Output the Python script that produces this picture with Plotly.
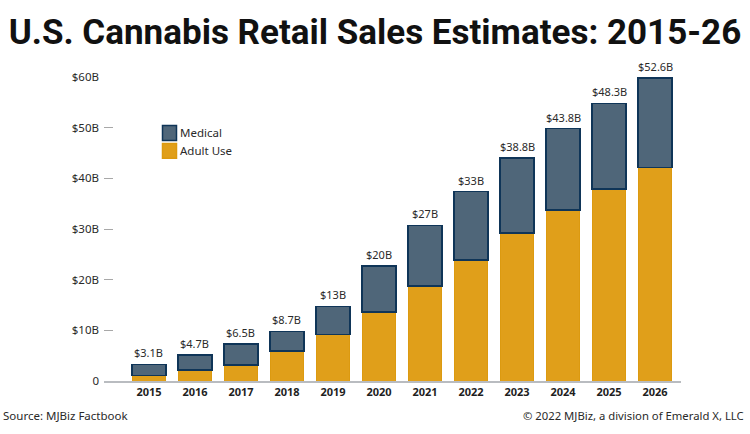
import plotly.graph_objects as go

years = ["2015", "2016", "2017", "2018", "2019", "2020", "2021", "2022", "2023", "2024", "2025", "2026"]
adult_use = [1.1, 2.15, 3.2, 5.9, 9.2, 13.6, 18.75, 23.9, 29.2, 33.8, 37.9, 42.1]
medical = [2.2, 2.95, 4.1, 3.9, 5.55, 9.1, 11.95, 13.5, 14.8, 16.0, 16.9, 17.7]
total_labels = ["$3.1B", "$4.7B", "$6.5B", "$8.7B", "$13B", "$20B", "$27B", "$33B",
                "$38.8B", "$43.8B", "$48.3B", "$52.6B"]
tick_vals = [0, 10, 20, 30, 40, 50, 60]
tick_text = ["0", "$10B", "$20B", "$30B", "$40B", "$50B", "$60B"]

totals = [a + m for a, m in zip(adult_use, medical)]

FONT = "Noto Sans"
TEXT = "#2a2a2a"
BLUE = "#4f6679"
BLUE_EDGE = "#0f3558"
GOLD = "#e09f1a"
GOLD_EDGE = "#dc9a10"

LEFT, RIGHT, TOP, BOTTOM = 104, 69, 76.5, 53
PLOT_W = 750 - LEFT - RIGHT
PLOT_H = 434 - TOP - BOTTOM


# page pixels to paper coordinates, for the legend and footer
def paper_x(px):
    return (px - LEFT) / PLOT_W


def paper_y(px):
    return (434 - BOTTOM - px) / PLOT_H


fig = go.Figure()
fig.add_trace(go.Bar(x=years, y=adult_use, name="Adult Use", showlegend=False, width=0.73,
                     marker=dict(color=GOLD, line=dict(color=GOLD_EDGE, width=1))))
fig.add_trace(go.Bar(x=years, y=medical, name="Medical", showlegend=False, width=0.73,
                     marker=dict(color=BLUE, line=dict(color=BLUE_EDGE, width=1.5))))

fig.update_layout(
    width=750, height=434,
    barmode="stack",
    showlegend=False,
    paper_bgcolor="white",
    plot_bgcolor="white",
    margin=dict(l=LEFT, r=RIGHT, t=TOP, b=BOTTOM),
    font=dict(family=FONT, size=11, color=TEXT),
    title=dict(text="<b>U.S. Cannabis Retail Sales Estimates: 2015-26</b>",
               x=0.5, xanchor="center", y=0.926, yanchor="middle",
               font=dict(family="Roboto", size=35, color="#111111")),
)
fig.update_xaxes(type="category", range=[-0.978, 11.565], showgrid=False, ticks="",
                 showline=True, linecolor="#b9bcc0", linewidth=1.5,
                 tickfont=dict(family=FONT, size=11, color="#1f1f1f", weight="bold"))
fig.update_yaxes(range=[0, 60], tickvals=tick_vals, ticktext=tick_text, showgrid=False,
                 zeroline=False, showline=False, ticks="inside", ticklen=9, tickwidth=1,
                 tickcolor="#a8a8a8", ticklabelstandoff=4,
                 tickfont=dict(family=FONT, size=11.5, color=TEXT))

# labels over the stacks, x is the category index since "2015" would read as a number
for i, (total, label) in enumerate(zip(totals, total_labels)):
    fig.add_annotation(x=i, y=total, text=label, showarrow=False, yanchor="bottom", yshift=2,
                       font=dict(family=FONT, size=11, color=TEXT))

# hand made legend, the swatch sits closer to the text than plotly's legend allows
legend_items = [("Medical", BLUE, BLUE_EDGE, 125, 140), ("Adult Use", GOLD, GOLD_EDGE, 143, 158)]
for label, fill, edge, y0, y1 in legend_items:
    fig.add_shape(type="rect", xref="paper", yref="paper", x0=paper_x(162.5), x1=paper_x(176.5),
                  y0=paper_y(y1), y1=paper_y(y0), fillcolor=fill, line=dict(color=edge, width=1.5))
    fig.add_annotation(text=label, xref="paper", yref="paper", x=paper_x(178), y=paper_y((y0 + y1) / 2),
                       xanchor="left", yanchor="middle", showarrow=False,
                       font=dict(family=FONT, size=11.5, color=TEXT))

fig.add_annotation(text="Source: MJBiz Factbook", xref="paper", yref="paper", x=paper_x(1), y=paper_y(416),
                   xanchor="left", yanchor="middle", showarrow=False,
                   font=dict(family=FONT, size=11.5, color=TEXT))
fig.add_annotation(text="© 2022 MJBiz, a division of Emerald X, LLC", xref="paper", yref="paper",
                   x=paper_x(746), y=paper_y(416), xanchor="right", yanchor="middle", showarrow=False,
                   font=dict(family=FONT, size=11.3, color=TEXT))

fig.write_html("out.html", config={"displayModeBar": False},
               post_script="document.body.style.margin = '0';")
